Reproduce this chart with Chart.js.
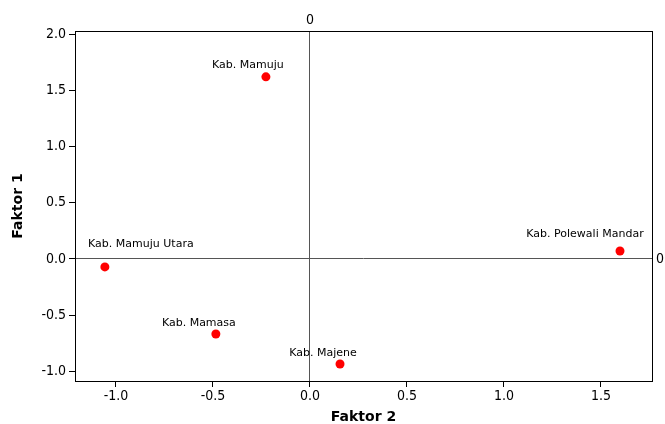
<!DOCTYPE html>
<html>
<head>
<meta charset="utf-8">
<script src="https://cdn.jsdelivr.net/npm/chart.js@4/dist/chart.umd.min.js"></script>
<style>
html,body{margin:0;padding:0;background:#fff;}
#wrap{width:665px;height:424px;}
</style>
</head>
<body>
<div id="wrap"><canvas id="c" width="665" height="424"></canvas></div>
<script>
const regions = ["Kab. Mamuju", "Kab. Mamuju Utara", "Kab. Mamasa", "Kab. Majene", "Kab. Polewali Mandar"];
const faktor2 = [-0.227, -1.057, -0.485, 0.155, 1.598];
const faktor1 = [1.622, -0.071, -0.668, -0.936, 0.071];
const xTicks = [-1.0, -0.5, 0.0, 0.5, 1.0, 1.5];
const yTicks = [-1.0, -0.5, 0.0, 0.5, 1.0, 1.5, 2.0];
const xRange = [-1.211, 1.763];
const yRange = [-1.087, 2.03];

const labelOffsets = [[-18,-12],[36,-23],[-17,-11],[-17,-11],[-35,-17]];
const tickFont = {family: "'DejaVu Sans Condensed', 'DejaVu Sans', Verdana, sans-serif", size: 14};
const titleFont = {family: "'DejaVu Sans', Verdana, sans-serif", size: 14, weight: 'bold', lineHeight: 1};

const labelPlugin = {
  id: 'pointLabels',
  afterDatasetsDraw(chart) {
    const ctx = chart.ctx;
    const meta = chart.getDatasetMeta(0);
    ctx.save();
    ctx.font = "11px 'DejaVu Sans', Verdana, sans-serif";
    ctx.fillStyle = '#000';
    ctx.textAlign = 'center';
    ctx.textBaseline = 'middle';
    meta.data.forEach((el, i) => {
      const o = labelOffsets[i];
      ctx.fillText(regions[i], el.x + o[0], el.y + o[1]);
    });
    ctx.restore();
  }
};

new Chart(document.getElementById('c'), {
  type: 'scatter',
  data: {
    datasets: [{
      data: faktor2.map((x, i) => ({x: x, y: faktor1[i]})),
      backgroundColor: '#ff0000',
      borderColor: '#ff0000',
      pointRadius: 4.5,
      pointHoverRadius: 4.5,
      borderWidth: 0
    }]
  },
  options: {
    responsive: false,
    animation: false,
    events: [],
    layout: {padding: 0},
    plugins: {legend: {display: false}, tooltip: {enabled: false}},
    scales: {
      x: {
        type: 'linear', position: 'bottom', min: xRange[0], max: xRange[1],
        afterBuildTicks: s => { s.ticks = xTicks.map(v => ({value: v})); },
        afterFit: s => { s.height = 43; },
        grid: {drawOnChartArea: false, drawTicks: true, tickLength: 6, color: '#000'},
        border: {display: true, color: '#000', width: 1},
        ticks: {font: tickFont, color: '#000', padding: 1, maxRotation: 0, callback: v => Number(v).toFixed(1)},
        title: {display: true, text: 'Faktor 2', font: titleFont, color: '#000', padding: {top: 5, bottom: 0}}
      },
      y: {
        type: 'linear', position: 'left', min: yRange[0], max: yRange[1],
        afterBuildTicks: s => { s.ticks = yTicks.map(v => ({value: v})); },
        afterFit: s => { s.width = 75; },
        grid: {drawOnChartArea: false, drawTicks: true, tickLength: 6, color: '#000'},
        border: {display: true, color: '#000', width: 1},
        ticks: {font: tickFont, color: '#000', padding: 3, callback: v => Number(v).toFixed(1)},
        title: {display: true, text: 'Faktor 1', font: titleFont, color: '#000', padding: {top: 11, bottom: 0}}
      },
      x2: {
        type: 'linear', position: 'top', min: xRange[0], max: xRange[1],
        afterBuildTicks: s => { s.ticks = [{value: 0}]; },
        afterFit: s => { s.height = 31; },
        grid: {drawOnChartArea: true, drawTicks: false, color: '#555', lineWidth: 1},
        border: {display: true, color: '#000', width: 1},
        ticks: {font: tickFont, color: '#000', padding: 2, callback: () => '0'}
      },
      y2: {
        type: 'linear', position: 'right', min: yRange[0], max: yRange[1],
        afterBuildTicks: s => { s.ticks = [{value: 0}]; },
        afterFit: s => { s.width = 13; },
        grid: {drawOnChartArea: true, drawTicks: false, color: '#555', lineWidth: 1},
        border: {display: true, color: '#000', width: 1},
        ticks: {font: tickFont, color: '#000', padding: 4, callback: () => '0'}
      }
    }
  },
  plugins: [labelPlugin]
});
</script>
</body>
</html>
